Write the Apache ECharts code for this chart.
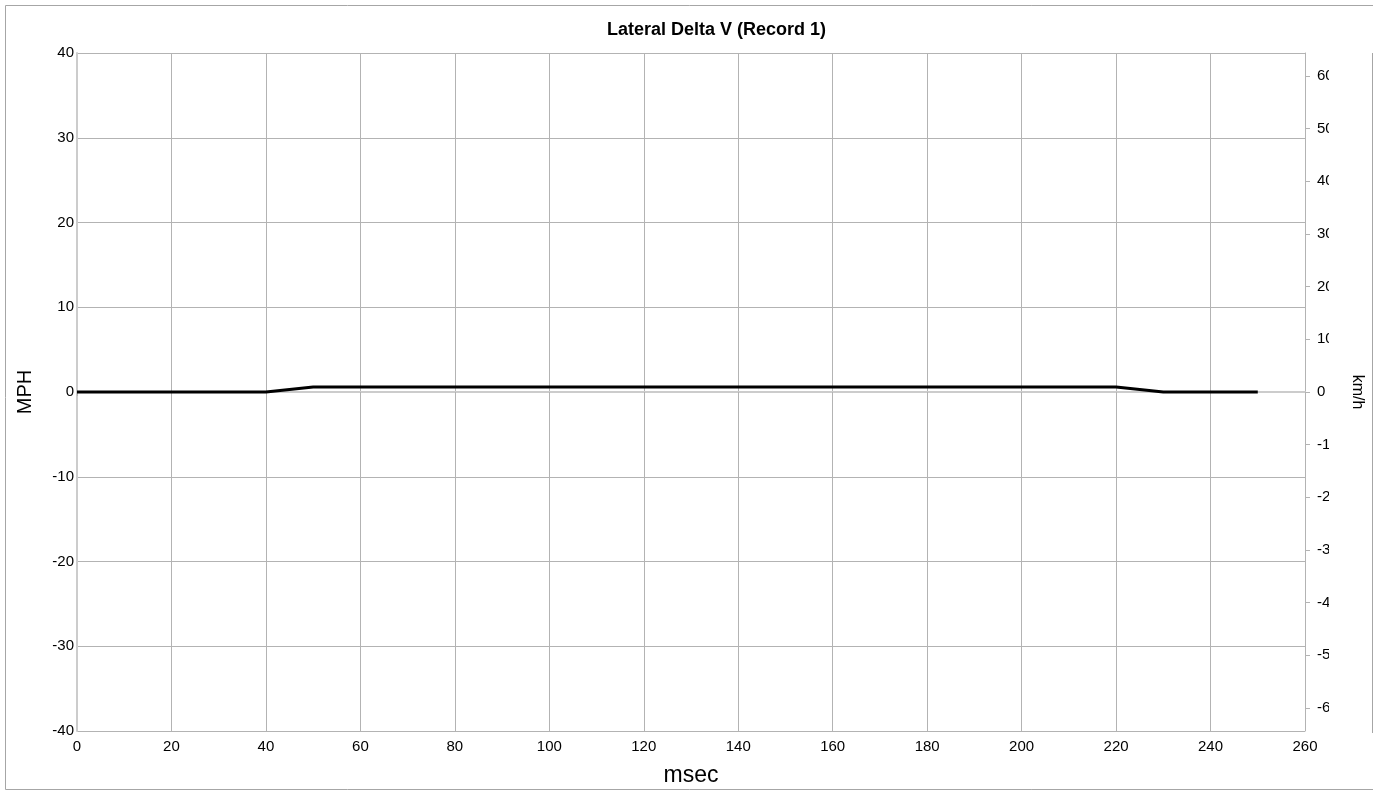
<!DOCTYPE html>
<html><head><meta charset="utf-8">
<script src="https://cdn.jsdelivr.net/npm/echarts@6/dist/echarts.min.js"></script>
<style>html,body{margin:0;padding:0;background:#fff}#c{width:1378px;height:792px}</style>
</head><body><div id="c"></div>
<script>
const timesMs = [0,10,20,30,40,50,60,70,80,90,100,110,120,130,140,150,160,170,180,190,200,210,220,230,240,250];
const lateralMph = [0,0,0,0,0,0.6,0.6,0.6,0.6,0.6,0.6,0.6,0.6,0.6,0.6,0.6,0.6,0.6,0.6,0.6,0.6,0.6,0.6,0,0,0];
const kmhTicks = [-60,-50,-40,-30,-20,-10,0,10,20,30,40,50,60];
const titleText = 'Lateral Delta V (Record 1)';

const MPH_TO_KMH = 1.609344;
const chart = echarts.init(document.getElementById('c'));
const F = '"Liberation Sans", Arial, sans-serif';
const grey = '#b3b3b3';
const border = '#a6a6a6';
chart.setOption({
  animation: false,
  title: {text: titleText, left: 602, top: 16,
    textStyle: {fontFamily: F, fontSize: 18, fontWeight: 'bold', color: '#000'}},
  grid: {left: 77, right: 73, top: 53, bottom: 59},
  xAxis: {type: 'value', min: 0, max: 260, interval: 20,
    name: 'msec', nameLocation: 'middle', nameGap: 33,
    nameTextStyle: {fontFamily: F, fontSize: 23, color: '#000'},
    axisLine: {show: true, lineStyle: {color: '#cccccc', width: 2}},
    axisTick: {show: true, length: 4, lineStyle: {color: grey}},
    axisLabel: {fontFamily: F, fontSize: 15, color: '#000', margin: 8},
    splitLine: {show: true, lineStyle: {color: grey, width: 1}}},
  yAxis: [
    {type: 'value', min: -40, max: 40, interval: 10, position: 'left',
      name: 'MPH', nameLocation: 'middle', nameGap: 42, nameRotate: 90,
      nameTextStyle: {fontFamily: F, fontSize: 20, color: '#000'},
      axisLine: {show: true, lineStyle: {color: '#cccccc', width: 2}},
      axisTick: {show: false},
      axisLabel: {fontFamily: F, fontSize: 15, color: '#000', margin: 3},
      splitLine: {show: true, lineStyle: {color: grey, width: 1}}},
    {type: 'value', min: -40 * MPH_TO_KMH, max: 40 * MPH_TO_KMH, position: 'right',
      name: 'km/h', nameLocation: 'middle', nameGap: 36, nameRotate: -90,
      nameTextStyle: {fontFamily: F, fontSize: 16, color: '#000'},
      axisLine: {show: true, lineStyle: {color: grey, width: 1}},
      axisTick: {show: true, length: 5, customValues: kmhTicks, lineStyle: {color: grey}},
      axisLabel: {fontFamily: F, fontSize: 15, color: '#000', margin: 12, customValues: kmhTicks},
      splitLine: {show: false}}
  ],
  series: [{type: 'line', data: timesMs.map((t, i) => [t, lateralMph[i]]),
    symbol: 'none', lineStyle: {color: '#000', width: 3}, z: 5}],
  graphic: [
    {type: 'rect', z: 100, shape: {x: 1329, y: 55, width: 14, height: 680}, style: {fill: '#fff'}},
    {type: 'line', z: 101, shape: {x1: 5.5, y1: 5.5, x2: 1373, y2: 5.5}, style: {stroke: border, lineWidth: 1}},
    {type: 'line', z: 101, shape: {x1: 5.5, y1: 5.5, x2: 5.5, y2: 789.5}, style: {stroke: border, lineWidth: 1}},
    {type: 'line', z: 101, shape: {x1: 5.5, y1: 789.5, x2: 1373, y2: 789.5}, style: {stroke: border, lineWidth: 1}},
    {type: 'line', z: 101, shape: {x1: 1372.5, y1: 53, x2: 1372.5, y2: 733}, style: {stroke: border, lineWidth: 1}}
  ]
});
</script></body></html>
